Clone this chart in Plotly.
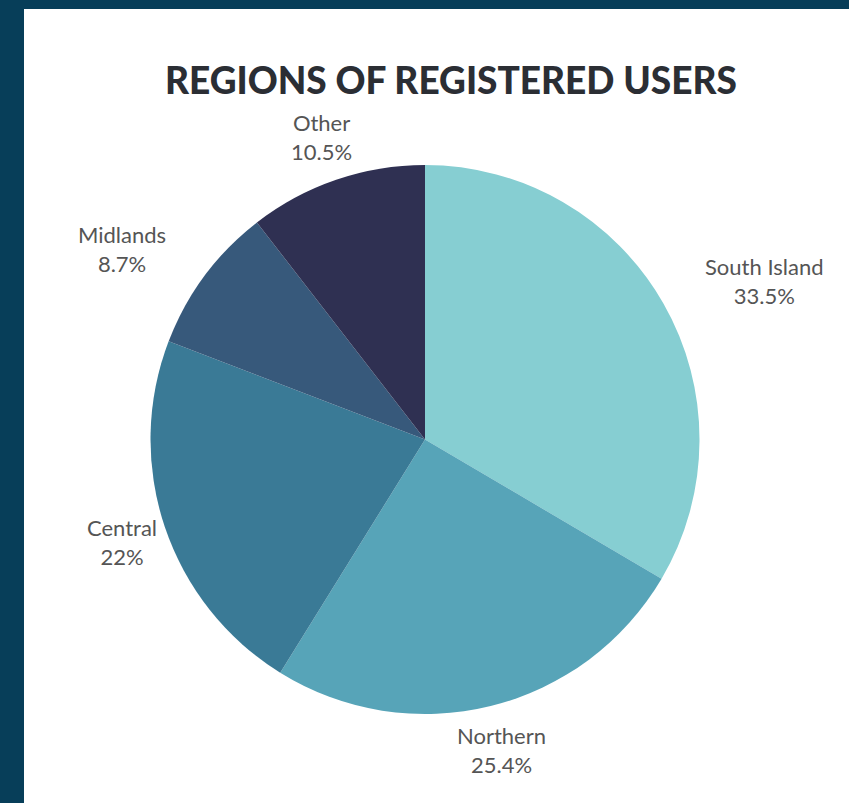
import math
import plotly.graph_objects as go

# ---- data ----
regions = ["South Island", "Northern", "Central", "Midlands", "Other"]
shares = [33.5, 25.4, 22, 8.7, 10.5]
share_labels = ["33.5%", "25.4%", "22%", "8.7%", "10.5%"]
colors = ["#86ced2", "#57a4b8", "#3a7a96", "#37597b", "#2f3052"]

W, H = 849, 803
ML, MR, MT, MB = 150, 149, 165, 89
pw, ph = W - ML - MR, H - MT - MB
R = min(pw, ph) / 2.0

fig = go.Figure(go.Pie(
    labels=regions,
    values=shares,
    sort=False,
    direction="clockwise",
    rotation=0,
    marker=dict(colors=colors, line=dict(width=0)),
    textinfo="none",
    hoverinfo="label+percent",
    showlegend=False,
))

# outside labels placed along each slice's mid-angle
FS = 22
LR = R + 45.5
total = sum(shares)
cum = 0.0
annotations = []
for name, v, lab in zip(regions, shares, share_labels):
    mid = (cum + v / 2.0) / total * 2 * math.pi
    cum += v
    s, c = math.sin(mid), math.cos(mid)
    if c > 0 and abs(s) > 0.5:
        xa = "left" if s > 0 else "right"
    else:
        xa = "center"
    annotations.append(dict(
        x=0.5, y=0.5, xref="paper", yref="paper",
        xshift=LR * s, yshift=LR * c,
        text=f"{name}<br>{lab}", showarrow=False,
        xanchor=xa, yanchor="middle", align="center",
        font=dict(family="Lato", size=FS, color="#555555"),
    ))

annotations.append(dict(
    x=(451 - ML) / pw, y=1 + (MT - 80) / ph, xref="paper", yref="paper",
    text="REGIONS OF REGISTERED USERS", showarrow=False,
    xanchor="center", yanchor="middle",
    font=dict(family="Lato", size=37, color="#2b2e34", weight=900),
))

fig.update_layout(
    width=W, height=H,
    margin=dict(l=ML, r=MR, t=MT, b=MB),
    paper_bgcolor="#073e59",
    plot_bgcolor="white",
    annotations=annotations,
    shapes=[dict(
        type="rect", xref="paper", yref="paper", layer="below",
        x0=(24 - ML) / pw, x1=(W + 5 - ML) / pw,
        y0=-(MB + 5) / ph, y1=1 + (MT - 9) / ph,
        fillcolor="white", line=dict(width=0),
    )],
)

fig.write_html("out.html", config={"displayModeBar": False},
               post_script="document.body.style.margin='0';")
